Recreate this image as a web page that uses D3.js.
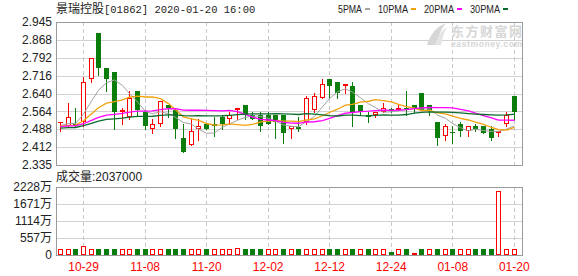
<!DOCTYPE html>
<html>
<head>
<meta charset="utf-8">
<script src="https://cdn.jsdelivr.net/npm/d3@7"></script>
<style>
  body { margin: 0; background: #fff; }
  svg text { font-family: "Liberation Sans", "Noto Sans CJK SC", sans-serif; }
</style>
</head>
<body>
<svg id="chart" width="578" height="276"></svg>
<script>
// trading days shown (HK market, 2019-10-24 .. 2020-01-20)
const dates = [
  "10-24","10-25","10-28","10-29","10-30","10-31",
  "11-01","11-04","11-05","11-06","11-07","11-08","11-11","11-12","11-13","11-14","11-15",
  "11-18","11-19","11-20","11-21","11-22","11-25","11-26","11-27","11-28","11-29",
  "12-02","12-03","12-04","12-05","12-06","12-09","12-10","12-11","12-12","12-13",
  "12-16","12-17","12-18","12-19","12-20","12-23","12-24","12-27","12-30","12-31",
  "01-02","01-03","01-06","01-07","01-08","01-09","01-10","01-13","01-14","01-15",
  "01-16","01-17","01-20"
];
const open = [
  2.515, 2.50, 2.51, 2.52, 2.70, 2.90, 2.75, 2.73, 2.56, 2.54,
  2.65, 2.56, 2.49, 2.51, 2.59, 2.57, 2.45, 2.42, 2.49, 2.51,
  2.51, 2.54, 2.53, 2.57, 2.59, 2.55, 2.55, 2.55, 2.55, 2.55,
  2.49, 2.495, 2.52, 2.57, 2.62, 2.70, 2.69, 2.67, 2.67, 2.59,
  2.55, 2.55, 2.56, 2.575, 2.57, 2.58, 2.59, 2.64, 2.59, 2.52,
  2.46, 2.475, 2.51, 2.48, 2.50, 2.50, 2.49, 2.47, 2.51, 2.63
];
const high = [
  2.52, 2.60, 2.58, 2.71, 2.79, 2.90, 2.75, 2.73, 2.58, 2.65,
  2.65, 2.57, 2.53, 2.61, 2.59, 2.58, 2.51, 2.53, 2.53, 2.51,
  2.54, 2.55, 2.56, 2.58, 2.59, 2.56, 2.56, 2.56, 2.55, 2.55,
  2.50, 2.54, 2.63, 2.64, 2.70, 2.70, 2.69, 2.68, 2.69, 2.59,
  2.56, 2.56, 2.60, 2.58, 2.59, 2.65, 2.59, 2.64, 2.59, 2.52,
  2.51, 2.50, 2.52, 2.50, 2.51, 2.50, 2.50, 2.48, 2.56, 2.63
];
const low = [
  2.48, 2.50, 2.50, 2.50, 2.69, 2.72, 2.65, 2.49, 2.51, 2.53,
  2.55, 2.49, 2.47, 2.50, 2.54, 2.45, 2.39, 2.42, 2.44, 2.49,
  2.46, 2.49, 2.51, 2.53, 2.53, 2.53, 2.48, 2.51, 2.45, 2.43,
  2.45, 2.48, 2.51, 2.56, 2.62, 2.62, 2.62, 2.64, 2.50, 2.55,
  2.52, 2.54, 2.56, 2.56, 2.57, 2.55, 2.56, 2.57, 2.55, 2.42,
  2.44, 2.43, 2.46, 2.46, 2.48, 2.47, 2.44, 2.46, 2.50, 2.53
];
const close = [
  2.52, 2.54, 2.50, 2.69, 2.79, 2.75, 2.70, 2.56, 2.57, 2.62,
  2.57, 2.50, 2.51, 2.61, 2.58, 2.49, 2.39, 2.48, 2.50, 2.49,
  2.50, 2.51, 2.55, 2.58, 2.55, 2.53, 2.50, 2.51, 2.52, 2.47,
  2.50, 2.49, 2.62, 2.63, 2.68, 2.67, 2.64, 2.68, 2.56, 2.56,
  2.54, 2.56, 2.58, 2.57, 2.58, 2.57, 2.58, 2.57, 2.57, 2.45,
  2.50, 2.47, 2.48, 2.50, 2.49, 2.47, 2.45, 2.48, 2.55, 2.56
];
// volume, in 万 shares
const volume = [
  195, 195, 200, 290, 195, 200, 200, 200, 195, 195,
  200, 200, 195, 195, 200, 200, 200, 195, 195, 200,
  195, 195, 195, 245, 200, 200, 200, 195, 195, 200,
  195, 200, 195, 195, 195, 200, 200, 195, 200, 195,
  200, 195, 195, 95, 195, 200, 70, 200, 195, 200,
  195, 200, 195, 195, 200, 200, 200, 2100, 195, 203.7
];
// closes before the window, estimated from where the MA lines start
const priorCloses = [
  2.47, 2.48, 2.46, 2.48, 2.49, 2.47, 2.48, 2.49, 2.48, 2.48,
  2.49, 2.50, 2.50, 2.51, 2.49, 2.50, 2.50, 2.49, 2.50, 2.50,
  2.50, 2.49, 2.50, 2.49, 2.50, 2.50, 2.50, 2.49, 2.51
];
const priceTicks = [2.335, 2.412, 2.488, 2.564, 2.640, 2.716, 2.792, 2.868, 2.945];
const volTicks = [0, 557, 1114, 1671, 2228];
const xLabels = ["10-29", "11-08", "11-20", "12-02", "12-12", "12-24", "01-08", "01-20"];
const maPeriods = [5, 10, 20, 30];
const maNames = ["5PMA", "10PMA", "20PMA", "30PMA"];

const maColors = ["#a3a3a3", "#f2a20c", "#ff00ff", "#0b6b2e"];
const RED = "#ff0000", GREEN = "#0a7d0a";

const W = 578, H = 276;
const plotL = 56, plotR = 522;
const pTop = 22, pBot = 165, vTop = 187, vBot = 255;

const svg = d3.select("#chart");
svg.append("rect").attr("width", W).attr("height", H).attr("fill", "#fff");

const x = d3.scaleBand().domain(dates).range([56.7, 518.1])
  .paddingInner(0.35).paddingOuter(0.175);
const cx = d => Math.floor(x(d) + x.bandwidth() / 2) + 0.5;
const y = d3.scaleLinear().domain([2.335, 2.945]).range([pBot, pTop]);
const yv = d3.scaleLinear().domain([0, 2228]).range([vBot, vTop]);

// ---- grids and axes
const gy = svg.append("g").attr("transform", `translate(${plotL},0)`)
  .call(d3.axisLeft(y).tickValues(priceTicks).tickFormat(d3.format(".3f"))
    .tickSize(-(plotR - plotL)).tickPadding(4));
const gv = svg.append("g").attr("transform", `translate(${plotL},0)`)
  .call(d3.axisLeft(yv).tickValues(volTicks).tickFormat(d => d === 0 ? "0" : d + "万")
    .tickSize(-(plotR - plotL)).tickPadding(4));
[gy, gv].forEach(g => {
  g.select(".domain").remove();
  g.selectAll(".tick line").attr("stroke", "#d2d2d2").attr("shape-rendering", "crispEdges");
  g.selectAll(".tick text").attr("fill", "#222").attr("font-size", 12)
    .attr("font-family", "'Liberation Sans', 'Noto Sans CJK SC', sans-serif");
});

const vgrid = svg.append("g").attr("stroke", "#c8c8c8").attr("stroke-dasharray", "4,3")
  .attr("shape-rendering", "crispEdges");
xLabels.forEach(d => {
  vgrid.append("line").attr("x1", cx(d)).attr("x2", cx(d)).attr("y1", pTop).attr("y2", pBot);
  vgrid.append("line").attr("x1", cx(d)).attr("x2", cx(d)).attr("y1", vTop).attr("y2", vBot);
});

const gx = svg.append("g").attr("transform", `translate(0,${vBot})`)
  .call(d3.axisBottom(x).tickValues(xLabels).tickSize(0).tickPadding(7));
gx.select(".domain").remove();
gx.selectAll(".tick text").attr("fill", RED).attr("font-size", 12)
  .attr("font-family", "'Liberation Sans Narrow', 'Liberation Sans', sans-serif");

// ---- watermark
const wm = svg.append("g").attr("fill", "#d6d6d6");
wm.append("path").attr("d", "M427,45 C430,35 436,27 446,23 C441,29 438,36 437,45 Z");
wm.append("path").attr("d", "M435,45 C437,37 441,31 447,27 C444,33 442,39 441,45 Z").attr("fill", "#e4e4e4");
wm.append("text").attr("x", 451).attr("y", 35.5).attr("font-size", 13).attr("font-weight", "bold")
  .attr("font-family", "'Noto Sans CJK SC', sans-serif").attr("textLength", 71).text("东方财富网");
wm.append("text").attr("x", 451).attr("y", 47).attr("font-size", 8.5).attr("font-weight", "bold")
  .attr("textLength", 71).text("eastmoney.com");

// ---- frames
svg.append("rect").attr("x", plotL + 0.5).attr("y", pTop + 0.5)
  .attr("width", plotR - plotL).attr("height", pBot - pTop)
  .attr("fill", "none").attr("stroke", "#9a9a9a");
svg.append("rect").attr("x", plotL + 0.5).attr("y", vTop + 0.5)
  .attr("width", plotR - plotL).attr("height", vBot - vTop)
  .attr("fill", "none").attr("stroke", "#9a9a9a");

// ---- candles
const isUp = i => close[i] > open[i] ? true : close[i] < open[i] ? false
  : close[i] >= (i > 0 ? close[i - 1] : priorCloses[priorCloses.length - 1]);
const volUp = i => close[i] >= (i > 0 ? close[i - 1] : priorCloses[priorCloses.length - 1]);

const gc = svg.append("g").attr("shape-rendering", "crispEdges");
dates.forEach((d, i) => {
  const c = cx(d);
  const up = isUp(i);
  const col = up ? RED : GREEN;
  gc.append("line").attr("x1", c).attr("x2", c)
    .attr("y1", Math.round(y(high[i]))).attr("y2", Math.round(y(low[i])) + 1)
    .attr("stroke", col);
  const top = Math.round(y(Math.max(open[i], close[i])));
  const bot = Math.round(y(Math.min(open[i], close[i])));
  if (bot - top < 2) {
    gc.append("rect").attr("x", c - 2.5).attr("y", top).attr("width", 5)
      .attr("height", Math.max(bot - top, 1)).attr("fill", col);
  } else if (up) {
    gc.append("rect").attr("x", c - 2).attr("y", top + 0.5).attr("width", 4)
      .attr("height", bot - top - 1).attr("fill", "#fff").attr("stroke", col);
  } else {
    gc.append("rect").attr("x", c - 2.5).attr("y", top).attr("width", 5)
      .attr("height", bot - top).attr("fill", col);
  }
});

// ---- moving averages
const allCloses = priorCloses.concat(close);
const off = priorCloses.length;
const line = d3.line().x((v, i) => cx(dates[i])).y(v => y(v));
maPeriods.forEach((n, k) => {
  const ma = close.map((_, i) => d3.mean(allCloses.slice(i + off - n + 1, i + off + 1)));
  svg.append("path").attr("d", line(ma)).attr("fill", "none")
    .attr("stroke", maColors[k]).attr("stroke-width", k === 0 ? 1 : 1.3);
});

// ---- volume
const gvb = svg.append("g").attr("shape-rendering", "crispEdges");
dates.forEach((d, i) => {
  const c = cx(d);
  const top = Math.round(yv(volume[i]));
  if (volUp(i)) {
    gvb.append("rect").attr("x", c - 2).attr("y", top + 0.5).attr("width", 4)
      .attr("height", vBot - top - 1).attr("fill", "#fff").attr("stroke", RED);
  } else {
    gvb.append("rect").attr("x", c - 2.5).attr("y", top).attr("width", 5)
      .attr("height", vBot - top).attr("fill", GREEN);
  }
});

// ---- title, legend, volume caption
const title = svg.append("text").attr("x", 56).attr("y", 13).attr("fill", "#222");
title.append("tspan").attr("font-size", 12).attr("font-family", "'Noto Sans CJK SC', sans-serif").text("景瑞控股");
title.append("tspan").attr("font-size", 10.5).attr("font-family", "'Liberation Mono', monospace")
  .text("[01862] 2020-01-20 16:00");

let lx = 338;
maNames.forEach((name, k) => {
  const w = name.length * 6;
  svg.append("text").attr("x", lx).attr("y", 13).attr("fill", "#222")
    .attr("font-size", 10.5).attr("font-family", "'Liberation Mono', monospace")
    .attr("textLength", w).attr("lengthAdjust", "spacingAndGlyphs").text(name);
  svg.append("rect").attr("x", lx + w + 3).attr("y", 8).attr("width", 5).attr("height", 2)
    .attr("fill", maColors[k]);
  lx += w + 16;
});

const cap = svg.append("text").attr("x", 56).attr("y", 181).attr("fill", "#222").attr("font-size", 12);
cap.append("tspan").attr("font-family", "'Noto Sans CJK SC', sans-serif").text("成交量");
cap.append("tspan").text(":" + d3.format("d")(volume[volume.length - 1] * 10000));
</script>
</body>
</html>
